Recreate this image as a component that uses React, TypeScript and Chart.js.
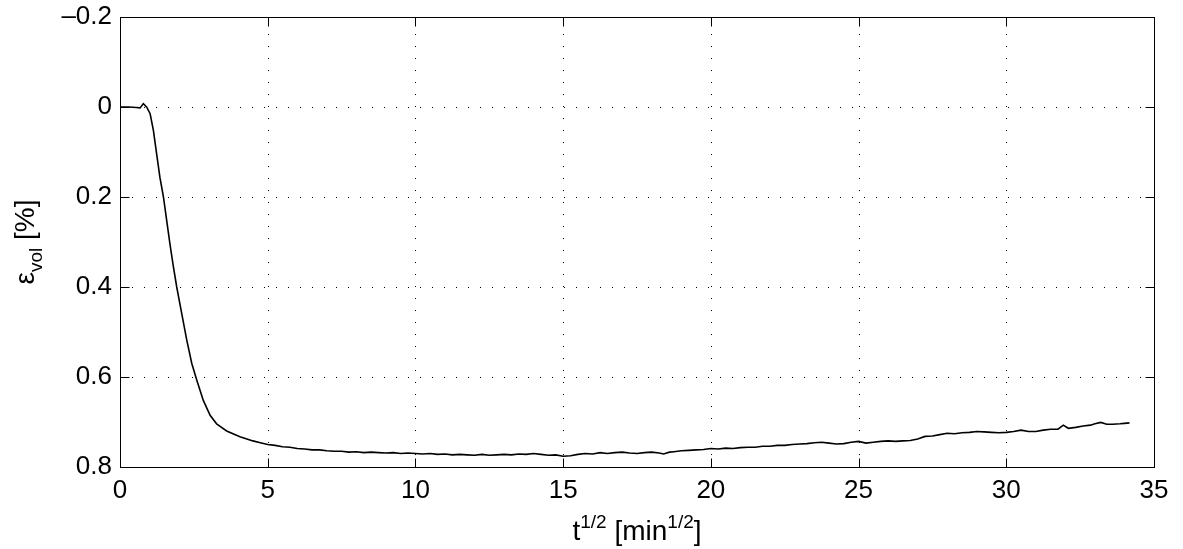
import React, { useEffect, useRef } from "react";
import { Chart, registerables } from "chart.js";

Chart.register(...registerables);

// t^(1/2) [min^(1/2)]
const xData: number[] = [
  0, 0.3, 0.55, 0.68, 0.79, 0.9, 1.02, 1.13, 1.24, 1.35, 1.47, 1.58, 1.69, 1.8, 1.92,
  2.09, 2.26, 2.43, 2.6, 2.82, 3.05, 3.27, 3.61, 4.06,
  4.5, 4.75, 5.0, 5.25, 5.5, 5.75, 6.0, 6.25, 6.5, 6.75, 7.0, 7.25, 7.5, 7.75,
  8.0, 8.25, 8.5, 8.75, 9.0, 9.25, 9.5, 9.75, 10.0, 10.25, 10.5, 10.75, 11.0,
  11.25, 11.5, 11.75, 12.0, 12.25, 12.5, 12.75, 13.0, 13.25, 13.5, 13.75, 14.0,
  14.25, 14.5, 14.75, 15.0, 15.25, 15.5, 15.75, 16.0, 16.25, 16.5, 16.75, 17.0,
  17.25, 17.5, 17.75, 18.0, 18.25, 18.4, 18.6, 18.75, 19.0, 19.25, 19.5, 19.75,
  20.0, 20.25, 20.5, 20.75, 21.0, 21.25, 21.5, 21.75, 22.0, 22.25, 22.5, 22.75,
  23.0, 23.25, 23.5, 23.75, 24.0, 24.25, 24.5, 24.75, 25.0, 25.25, 25.5, 25.75,
  26.0, 26.25, 26.5, 26.75, 27.0, 27.25, 27.5, 27.75, 28.0, 28.25, 28.5, 28.75,
  29.0, 29.25, 29.5, 29.75, 30.0, 30.25, 30.5, 30.75, 31.0, 31.25, 31.5, 31.75,
  31.93, 32.1, 32.35, 32.6, 32.85, 33.0, 33.2, 33.4, 33.6, 33.85, 34.0, 34.17,
];

// volumetric strain [%]
const yData: number[] = [
  0, 0.0, 0.001, 0.002, -0.0075, 0.0, 0.015, 0.052, 0.104, 0.156, 0.2, 0.252, 0.304,
  0.352, 0.4, 0.459, 0.518, 0.57, 0.607, 0.652, 0.685, 0.704, 0.72, 0.733,
  0.742, 0.746, 0.75, 0.752, 0.755, 0.756, 0.759, 0.76, 0.762, 0.762, 0.764, 0.765,
  0.765, 0.767, 0.766, 0.768, 0.767, 0.768, 0.769, 0.768, 0.77, 0.769, 0.77, 0.771,
  0.77, 0.772, 0.771, 0.773, 0.772, 0.773, 0.774, 0.772, 0.774, 0.773, 0.772,
  0.773, 0.771, 0.772, 0.77, 0.772, 0.774, 0.773, 0.776, 0.775, 0.772, 0.77,
  0.771, 0.768, 0.77, 0.768, 0.767, 0.769, 0.77, 0.768, 0.767, 0.769, 0.771,
  0.767, 0.766, 0.764, 0.763, 0.762, 0.761, 0.759, 0.76, 0.758, 0.759, 0.757,
  0.756, 0.756, 0.754, 0.754, 0.752, 0.752, 0.75, 0.749, 0.748, 0.746, 0.745,
  0.747, 0.749, 0.748, 0.745, 0.743, 0.747, 0.745, 0.743, 0.742, 0.743, 0.742,
  0.741, 0.738, 0.732, 0.731, 0.728, 0.725, 0.726, 0.724, 0.723, 0.721, 0.722,
  0.723, 0.724, 0.723, 0.721, 0.718, 0.721, 0.721, 0.718, 0.716, 0.716, 0.707,
  0.714, 0.712, 0.709, 0.707, 0.704, 0.701, 0.705, 0.705, 0.704, 0.703, 0.702,
];

const xTickValues: number[] = [0, 5, 10, 15, 20, 25, 30, 35];
const xTickLabels: string[] = ["0", "5", "10", "15", "20", "25", "30", "35"];
const yTickValues: number[] = [-0.2, 0, 0.2, 0.4, 0.6, 0.8];
const yTickLabels: string[] = ["\u20130.2", "0", "0.2", "0.4", "0.6", "0.8"];

const FONT = '"Liberation Sans", Arial, Helvetica, sans-serif';

const framePlugin = {
  id: "matlabFrame",
  beforeDatasetsDraw(chart: any) {
    const { ctx, chartArea: a, scales } = chart;
    ctx.save();
    ctx.strokeStyle = "#000";
    ctx.lineWidth = 1;
    ctx.setLineDash([1, 11]);
    xTickValues.forEach((v) => {
      const px = Math.round(scales.x.getPixelForValue(v)) + 0.5;
      if (px <= a.left + 1 || px >= a.right - 1) return;
      ctx.beginPath();
      ctx.moveTo(px, a.bottom);
      ctx.lineTo(px, a.top);
      ctx.stroke();
    });
    yTickValues.forEach((v) => {
      const py = Math.round(scales.y.getPixelForValue(v)) + 0.5;
      if (py <= a.top + 1 || py >= a.bottom - 1) return;
      ctx.beginPath();
      ctx.moveTo(a.left, py);
      ctx.lineTo(a.right, py);
      ctx.stroke();
    });
    ctx.restore();
  },
  afterDatasetsDraw(chart: any) {
    const { ctx, chartArea: a, scales } = chart;
    ctx.save();
    ctx.strokeStyle = "#000";
    ctx.lineWidth = 1;
    ctx.setLineDash([]);
    const L = Math.round(a.left) + 0.5;
    const R = Math.round(a.right) + 0.5;
    const T = Math.round(a.top) + 0.5;
    const B = Math.round(a.bottom) + 0.5;
    ctx.strokeRect(L, T, R - L, B - T);
    const tl = 9;
    ctx.beginPath();
    xTickValues.forEach((v) => {
      const px = Math.round(scales.x.getPixelForValue(v)) + 0.5;
      ctx.moveTo(px, B);
      ctx.lineTo(px, B - tl);
      ctx.moveTo(px, T);
      ctx.lineTo(px, T + tl);
    });
    yTickValues.forEach((v) => {
      const py = Math.round(scales.y.getPixelForValue(v)) + 0.5;
      ctx.moveTo(L, py);
      ctx.lineTo(L + tl, py);
      ctx.moveTo(R, py);
      ctx.lineTo(R - tl, py);
    });
    ctx.stroke();
    ctx.restore();
  },
  afterDraw(chart: any) {
    const { ctx, chartArea: a } = chart;
    ctx.save();
    ctx.fillStyle = "#000";
    ctx.textBaseline = "alphabetic";
    const big = `28px ${FONT}`;
    const small = `19px ${FONT}`;
    // x title: t^{1/2} [min^{1/2}]
    const parts: [string, string, number][] = [
      ["t", big, 0],
      ["1/2", small, -12],
      [" [min", big, 0],
      ["1/2", small, -12],
      ["]", big, 0],
    ];
    let total = 0;
    parts.forEach(([s, f]) => {
      ctx.font = f;
      total += ctx.measureText(s).width;
    });
    let x = (a.left + a.right) / 2 - total / 2;
    const baseY = 540;
    parts.forEach(([s, f, dy]) => {
      ctx.font = f;
      ctx.fillText(s, x, baseY + dy);
      x += ctx.measureText(s).width;
    });
    // y title: ε_vol [%]
    const yparts: [string, string, number][] = [
      ["\u03b5", big, 0],
      ["vol", small, 8],
      [" [%]", big, 0],
    ];
    let ytotal = 0;
    yparts.forEach(([s, f]) => {
      ctx.font = f;
      ytotal += ctx.measureText(s).width;
    });
    ctx.translate(34, (a.top + a.bottom) / 2);
    ctx.rotate(-Math.PI / 2);
    let yx = -ytotal / 2;
    yparts.forEach(([s, f, dy]) => {
      ctx.font = f;
      ctx.fillText(s, yx, dy);
      yx += ctx.measureText(s).width;
    });
    ctx.restore();
  },
};

export default function App() {
  const ref = useRef<HTMLCanvasElement | null>(null);
  useEffect(() => {
    document.body.style.margin = "0";
    const canvas = ref.current;
    if (!canvas) return;
    const points = xData.map((x, i) => ({ x, y: yData[i] }));
    const chart = new Chart(canvas, {
      type: "line",
      data: {
        datasets: [
          {
            data: points,
            borderColor: "#000",
            borderWidth: 1.6,
            pointRadius: 0,
            tension: 0,
            fill: false,
          },
        ],
      },
      options: {
        animation: false,
        responsive: false,
        maintainAspectRatio: false,
        layout: { padding: { left: 0, top: 17, right: 29, bottom: 0 } },
        plugins: {
          legend: { display: false },
          tooltip: { enabled: false },
        },
        scales: {
          x: {
            type: "linear",
            min: 0,
            max: 35,
            afterBuildTicks: (s: any) => {
              s.ticks = xTickValues.map((v) => ({ value: v }));
            },
            afterFit: (s: any) => {
              s.height = 82;
              s.paddingLeft = 0;
              s.paddingRight = 0;
            },
            grid: { display: false, drawTicks: false },
            border: { display: false },
            ticks: {
              color: "#000",
              font: { family: FONT, size: 26 },
              padding: 8,
              maxRotation: 0,
              autoSkip: false,
              callback: (v: any) => {
                const i = xTickValues.indexOf(Number(v));
                return i >= 0 ? xTickLabels[i] : "";
              },
            },
          },
          y: {
            type: "linear",
            reverse: true,
            min: -0.2,
            max: 0.8,
            afterBuildTicks: (s: any) => {
              s.ticks = yTickValues.map((v) => ({ value: v }));
            },
            afterFit: (s: any) => {
              s.width = 120;
              s.paddingTop = 0;
              s.paddingBottom = 0;
            },
            grid: { display: false, drawTicks: false },
            border: { display: false },
            ticks: {
              color: "#000",
              font: { family: FONT, size: 26 },
              padding: 8,
              autoSkip: false,
              callback: (v: any) => {
                const i = yTickValues.findIndex((t) => Math.abs(t - Number(v)) < 1e-9);
                return i >= 0 ? yTickLabels[i] : "";
              },
            },
          },
        },
      },
      plugins: [framePlugin],
    } as any);
    return () => chart.destroy();
  }, []);
  return (
    <div style={{ width: 1183, height: 549, background: "#fff" }}>
      <canvas ref={ref} width={1183} height={549} style={{ display: "block" }} />
    </div>
  );
}
